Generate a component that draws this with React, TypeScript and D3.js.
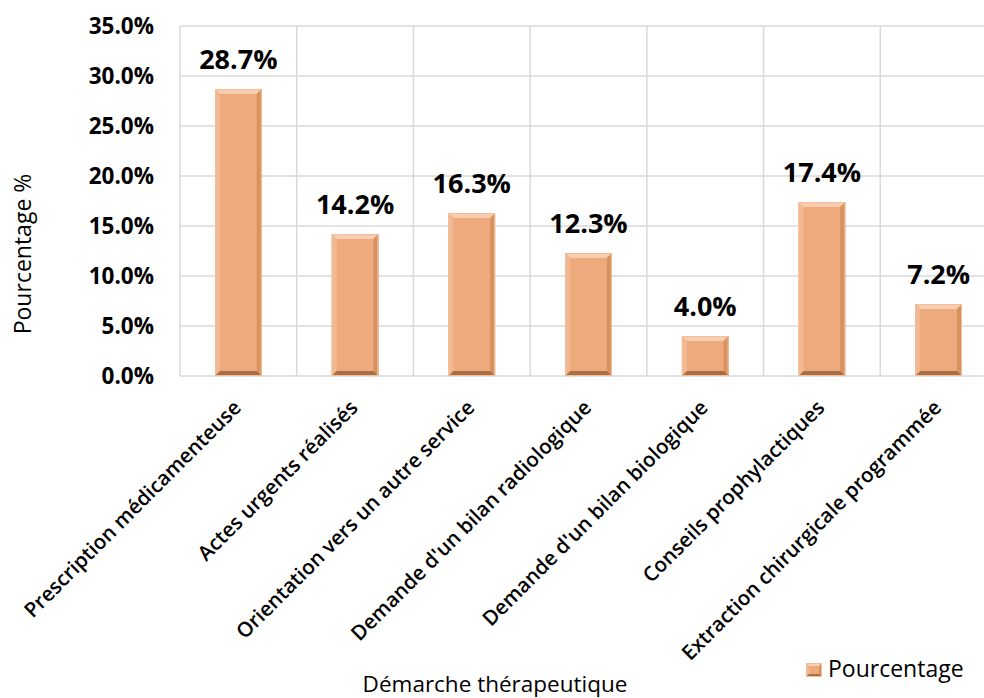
import React from "react";
import * as d3 from "d3";

const categories = [
  "Prescription médicamenteuse",
  "Actes urgents réalisés",
  "Orientation vers un autre service",
  "Demande d'un bilan radiologique",
  "Demande d'un bilan biologique",
  "Conseils prophylactiques",
  "Extraction chirurgicale programmée",
];
const values = [28.7, 14.2, 16.3, 12.3, 4.0, 17.4, 7.2];
const yTicks = [0, 5, 10, 15, 20, 25, 30, 35];
const seriesName = "Pourcentage";
const xTitle = "Démarche thérapeutique";
const yTitle = "Pourcentage %";

const W = 984;
const H = 698;
const plot = { left: 180, top: 26, right: 997, bottom: 376 };
const FONT = "'Open Sans', 'DejaVu Sans', sans-serif";

const face = "#EEAA7C";
const lightTop = "#F7CDB0";
const lightLeft = "#F1B892";
const darkRight = "#D6925F";
const darkBottom = "#A86E48";

function Bevel({ x, y, w, h, b }: { x: number; y: number; w: number; h: number; b: number }) {
  const bb = Math.min(b, w / 2, h / 2);
  const x2 = x + w, y2 = y + h;
  const pts = (a: number[][]) => a.map((p) => p.join(",")).join(" ");
  return (
    <g>
      <rect x={x} y={y} width={w} height={h} fill={face} />
      <polygon points={pts([[x, y], [x2, y], [x2 - bb, y + bb], [x + bb, y + bb]])} fill={lightTop} />
      <polygon points={pts([[x, y], [x + bb, y + bb], [x + bb, y2 - bb], [x, y2]])} fill={lightLeft} />
      <polygon points={pts([[x2, y], [x2, y2], [x2 - bb, y2 - bb], [x2 - bb, y + bb]])} fill={darkRight} />
      <polygon points={pts([[x, y2], [x + bb, y2 - bb], [x2 - bb, y2 - bb], [x2, y2]])} fill={darkBottom} />
      <rect x={x + 0.5} y={y + 0.5} width={w - 1} height={h - 1} fill="none" stroke="#F3BE9A" strokeWidth={1} />
    </g>
  );
}

export default function App() {
  const x = d3
    .scaleBand<string>()
    .domain(categories)
    .range([plot.left, plot.right])
    .paddingInner(0.6)
    .paddingOuter(0.3);
  const y = d3.scaleLinear().domain([0, 35]).range([plot.bottom, plot.top]);
  const fmt = (v: number) => d3.format(".1f")(v) + "%";

  return (
    <div style={{ position: "absolute", left: 0, top: 0 }}>
      <svg width={W} height={H} style={{ display: "block", background: "#fff" }}>
        {yTicks.map((t) => (
          <line key={"h" + t} x1={plot.left} x2={plot.right} y1={y(t)} y2={y(t)} stroke="#D9D9D9" strokeWidth={1.5} />
        ))}
        {categories.map((c, i) => {
          const bx = plot.left + i * (plot.right - plot.left) / categories.length;
          return <line key={"v" + i} x1={bx} x2={bx} y1={plot.top} y2={plot.bottom} stroke="#D9D9D9" strokeWidth={1.5} />;
        })}
        <line x1={plot.right} x2={plot.right} y1={plot.top} y2={plot.bottom} stroke="#D9D9D9" strokeWidth={1.5} />
        {yTicks.map((t) => (
          <text key={"t" + t} x={154} y={y(t)} dy="0.36em" textAnchor="end" fontFamily={FONT} fontWeight={700} fontSize={22.5} fill="#000">
            {fmt(t)}
          </text>
        ))}
        {categories.map((c, i) => (
          <Bevel key={"b" + i} x={x(c)!} y={y(values[i])} w={x.bandwidth()} h={y(0) - y(values[i])} b={5} />
        ))}
        {categories.map((c, i) => (
          <text key={"l" + i} x={x(c)! + x.bandwidth() / 2} y={y(values[i]) - 20} textAnchor="middle" fontFamily={FONT} fontWeight={700} fontSize={27} fill="#000">
            {fmt(values[i])}
          </text>
        ))}
        {categories.map((c, i) => {
          const cx = x(c)! + x.bandwidth() / 2;
          return (
            <text key={"c" + i} transform={`translate(${cx + 4},${409}) rotate(-45)`} textAnchor="end" fontFamily={FONT} fontWeight={600} fontSize={20.5} fill="#000">
              {c}
            </text>
          );
        })}
        <text x={495} y={692} textAnchor="middle" fontFamily={FONT} fontSize={22.5} fill="#000">
          {xTitle}
        </text>
        <text transform={`translate(31,254) rotate(-90)`} textAnchor="middle" fontFamily={FONT} fontSize={23} fill="#000">
          {yTitle}
        </text>
        <Bevel x={806} y={663} w={16} h={14} b={3} />
        <text x={828} y={677} fontFamily={FONT} fontSize={23} fill="#000">
          {seriesName}
        </text>
      </svg>
    </div>
  );
}
